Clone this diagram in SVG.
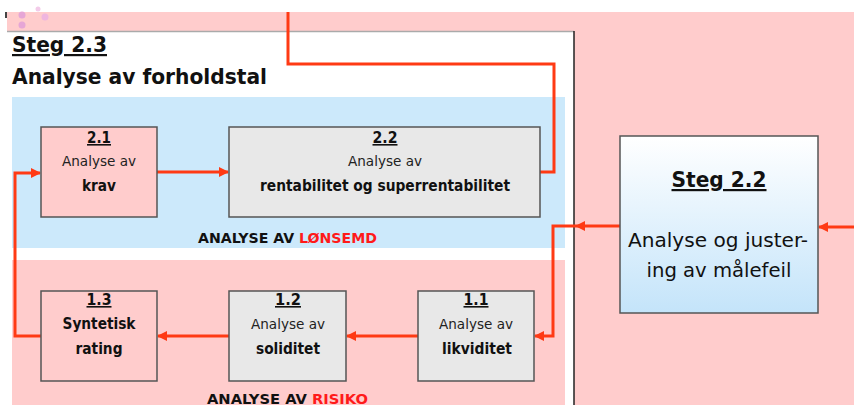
<svg xmlns="http://www.w3.org/2000/svg" width="854" height="405" viewBox="0 0 854 405">
  <defs>
    <linearGradient id="stepFill" x1="0" y1="0" x2="0" y2="1">
      <stop offset="0" stop-color="#ffffff"/>
      <stop offset="1" stop-color="#c4e4fa"/>
    </linearGradient>
    <marker id="arrow" viewBox="0 0 10 10" refX="9" refY="5" markerWidth="11" markerHeight="10" markerUnits="userSpaceOnUse" orient="auto">
      <path d="M0,0 L10,5 L0,10 Z" fill="#ff3a14"/>
    </marker>
    <style>
      text { font-family: "DejaVu Sans Condensed", "DejaVu Sans", "Liberation Sans", sans-serif; fill: #111; }
      .box { stroke: #555; stroke-width: 1.5; }
      .pink { fill: #ffcccc; }
      .grey { fill: #e8e8e8; }
      .num { font-size: 16px; font-weight: bold; text-decoration: underline; text-anchor: middle; }
      .reg { font-size: 14px; text-anchor: middle; fill: #222; }
      .bold { font-size: 16px; font-weight: bold; text-anchor: middle; }
      .band { font-size: 14px; font-weight: bold; }
      .hl { fill: #ff1a1a; }
      .wire { fill: none; stroke: #ff3a14; stroke-width: 3; stroke-linejoin: miter; }
      .title { font-size: 22px; font-weight: bold; }
    </style>
  </defs>

  <!-- page background -->
  <rect x="0" y="0" width="854" height="405" fill="#ffffff"/>
  <rect x="7" y="12" width="847" height="393" fill="#ffcccc"/>
  <circle cx="22" cy="15" r="3.5" fill="#e6a6d6"/>
  <circle cx="22" cy="25" r="3.5" fill="#e6a6d6"/>
  <circle cx="45" cy="17" r="3.5" fill="#efb6df"/>
  <circle cx="38" cy="9" r="2.5" fill="#f3cbe9"/>
  <rect x="5" y="12" width="2" height="6" fill="#444"/>

  <!-- step 2.3 panel -->
  <rect x="0" y="31" width="574" height="374" fill="#ffffff"/>
  <line x1="7" y1="31.5" x2="574" y2="31.5" stroke="#aaaaaa" stroke-width="1.5"/>
  <line x1="574" y1="31" x2="574" y2="405" stroke="#222" stroke-width="1.5"/>
  <text class="title" x="12" y="52" textLength="95" lengthAdjust="spacingAndGlyphs" text-decoration="underline">Steg 2.3</text>
  <text class="title" x="12" y="84" textLength="255" lengthAdjust="spacingAndGlyphs">Analyse av forholdstal</text>

  <!-- bands -->
  <rect x="12" y="97" width="553" height="151" fill="#cce9fb"/>
  <rect x="12" y="260" width="553" height="145" fill="#ffcccc"/>
  <text class="band" x="198" y="243" textLength="179" lengthAdjust="spacingAndGlyphs">ANALYSE AV <tspan class="hl">LØNSEMD</tspan></text>
  <text class="band" x="207" y="404" textLength="161" lengthAdjust="spacingAndGlyphs">ANALYSE AV <tspan class="hl">RISIKO</tspan></text>

  <!-- connectors -->
  <g id="connectors">
    <path class="wire" d="M288,12 V64 H554 V172 H540"/>
    <path class="wire" d="M854,227 H819" marker-end="url(#arrow)"/>
    <path class="wire" d="M620,226 H576" marker-end="url(#arrow)"/>
    <path class="wire" d="M576,226 H553 V336 H535" marker-end="url(#arrow)"/>
    <path class="wire" d="M418,336 H347" marker-end="url(#arrow)"/>
    <path class="wire" d="M229,336 H158" marker-end="url(#arrow)"/>
    <path class="wire" d="M41,336 H15 V173 H40" marker-end="url(#arrow)"/>
    <path class="wire" d="M157,172 H228" marker-end="url(#arrow)"/>
  </g>

  <!-- nodes -->
  <g id="node-2-1">
    <rect class="box pink" x="41" y="127" width="116" height="90"/>
    <text class="num" x="99" y="143" textLength="24" lengthAdjust="spacingAndGlyphs">2.1</text>
    <text class="reg" x="99" y="166" textLength="74" lengthAdjust="spacingAndGlyphs">Analyse av</text>
    <text class="bold" x="99" y="191" textLength="34" lengthAdjust="spacingAndGlyphs">krav</text>
  </g>
  <g id="node-2-2">
    <rect class="box grey" x="229" y="127" width="311" height="90"/>
    <text class="num" x="385" y="143" textLength="25" lengthAdjust="spacingAndGlyphs">2.2</text>
    <text class="reg" x="385" y="166" textLength="74" lengthAdjust="spacingAndGlyphs">Analyse av</text>
    <text class="bold" x="385" y="191" textLength="250" lengthAdjust="spacingAndGlyphs">rentabilitet og superrentabilitet</text>
  </g>
  <g id="node-1-3">
    <rect class="box pink" x="41" y="291" width="116" height="90"/>
    <text class="num" x="99" y="305" textLength="25" lengthAdjust="spacingAndGlyphs">1.3</text>
    <text class="bold" x="99" y="329" textLength="73" lengthAdjust="spacingAndGlyphs">Syntetisk</text>
    <text class="bold" x="99" y="354" textLength="47" lengthAdjust="spacingAndGlyphs">rating</text>
  </g>
  <g id="node-1-2">
    <rect class="box grey" x="229" y="291" width="117" height="90"/>
    <text class="num" x="288" y="305" textLength="26" lengthAdjust="spacingAndGlyphs">1.2</text>
    <text class="reg" x="288" y="329" textLength="74" lengthAdjust="spacingAndGlyphs">Analyse av</text>
    <text class="bold" x="288" y="354" textLength="64" lengthAdjust="spacingAndGlyphs">soliditet</text>
  </g>
  <g id="node-1-1">
    <rect class="box grey" x="418" y="291" width="116" height="90"/>
    <text class="num" x="476" y="305" textLength="25" lengthAdjust="spacingAndGlyphs">1.1</text>
    <text class="reg" x="476" y="329" textLength="74" lengthAdjust="spacingAndGlyphs">Analyse av</text>
    <text class="bold" x="477" y="354" textLength="70" lengthAdjust="spacingAndGlyphs">likviditet</text>
  </g>
  <g id="node-steg-2-2">
    <rect class="box" x="620" y="136" width="198" height="177" fill="url(#stepFill)"/>
    <text x="719" y="187" font-size="22" font-weight="bold" text-anchor="middle" text-decoration="underline" textLength="95" lengthAdjust="spacingAndGlyphs">Steg 2.2</text>
    <text x="718" y="247" font-size="20" text-anchor="middle" textLength="180" lengthAdjust="spacingAndGlyphs">Analyse og juster-</text>
    <text x="719" y="277" font-size="20" text-anchor="middle" textLength="145" lengthAdjust="spacingAndGlyphs">ing av målefeil</text>
  </g>
</svg>
